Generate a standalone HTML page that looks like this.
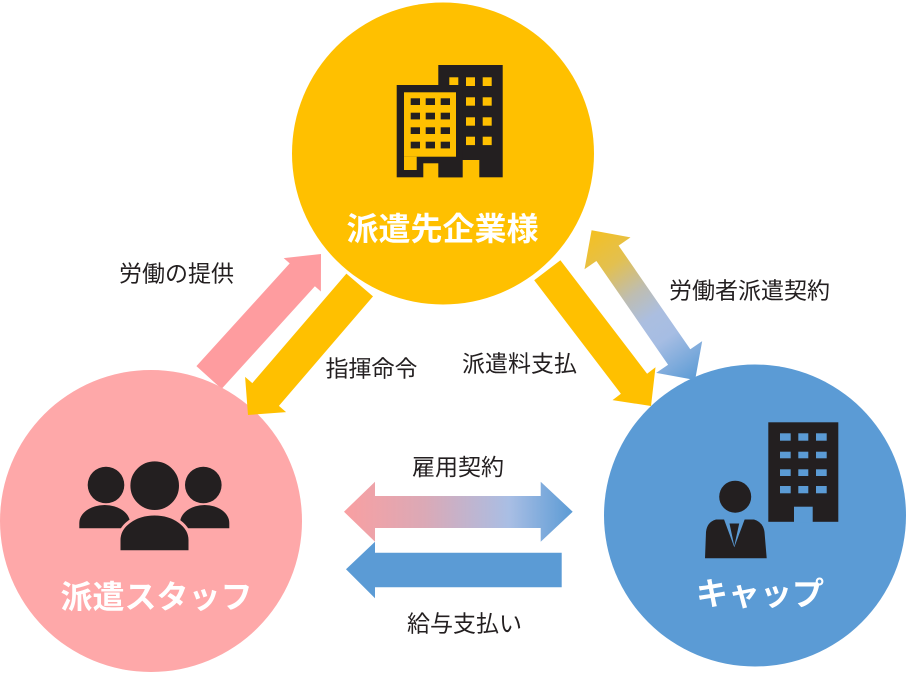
<!DOCTYPE html>
<html>
<head>
<meta charset="utf-8">
<style>
  html,body{margin:0;padding:0;background:#fff;}
  svg{display:block;}
  .lbl{font-family:"Liberation Sans","Noto Sans CJK JP",sans-serif;font-size:23px;fill:#231f20;}
  .big{font-family:"Liberation Sans","Noto Sans CJK JP",sans-serif;font-size:32px;fill:#fff;font-weight:700;}
</style>
</head>
<body>
<svg width="908" height="673" viewBox="0 0 908 673" xmlns="http://www.w3.org/2000/svg">
  <defs>
    <linearGradient id="gH" x1="344" y1="0" x2="573" y2="0" gradientUnits="userSpaceOnUse">
      <stop offset="0" stop-color="#f99fa1"/>
      <stop offset="0.35" stop-color="#dba9b6"/>
      <stop offset="0.72" stop-color="#a9bee4"/>
      <stop offset="1" stop-color="#5b9bd5"/>
    </linearGradient>
    <linearGradient id="gD" x1="591.6" y1="230.3" x2="695.1" y2="380" gradientUnits="userSpaceOnUse">
      <stop offset="0" stop-color="#f4c022"/>
      <stop offset="0.22" stop-color="#e3c04f"/>
      <stop offset="0.42" stop-color="#bebdb1"/>
      <stop offset="0.58" stop-color="#abbee0"/>
      <stop offset="0.72" stop-color="#a6bde3"/>
      <stop offset="1" stop-color="#5b9bd5"/>
    </linearGradient>
  </defs>

  <!-- pink arrow (behind circles) -->
  <polygon fill="#fe9c9f" points="196.4,366.1 289.7,263.4 283.7,258.1 321,254 320.9,291.5 314.9,286.2 221.6,388.9"/>

  <!-- circles -->
  <circle cx="443" cy="153.5" r="151" fill="#ffc000"/>
  <circle cx="151" cy="521" r="151" fill="#fea8a9"/>
  <circle cx="755" cy="515.5" r="151" fill="#5b9bd5"/>

  <!-- yellow arrows -->
  <polygon fill="#ffc000" points="346.4,273.6 252.3,383.1 245.1,376.9 248,415 286.1,412.1 278.9,405.9 373.0,296.4"/>
  <polygon fill="#ffc000" points="560.4,260.3 647.1,373.7 655.5,367.3 651,406 612.5,400.1 620.9,393.7 534.2,280.3"/>

  <!-- double diagonal arrow -->
  <polygon fill="url(#gD)" points="591.6,230.3 630.5,237.4 618.6,245.6 690.3,349.3 702.2,341.1 695.1,380 656.2,372.9 668.1,364.7 596.4,261.0 584.5,269.2"/>

  <!-- horizontal arrows -->
  <polygon fill="url(#gH)" points="344,511.7 375,481.7 375,496 540.7,496 540.7,481.7 572.7,511.7 540.7,541.7 540.7,528 375,528 375,541.7"/>
  <polygon fill="#5b9bd5" points="346,569.3 375,541.7 375,552.7 561.7,552.7 561.7,587.3 375,587.3 375,598.3"/>

  <!-- top building icon -->
  <g>
    <rect x="438.3" y="65" width="64.4" height="112.3" fill="#231f20"/>
    <g fill="#ffc000">
      <rect x="449.3" y="77.3" width="9" height="8"/>
      <rect x="466" y="77.3" width="9" height="8.7"/>
      <rect x="482.7" y="77.3" width="9" height="8.7"/>
      <rect x="466" y="97.3" width="9" height="8.4"/>
      <rect x="482.7" y="97.3" width="9" height="8.4"/>
      <rect x="466" y="117.3" width="9" height="8.4"/>
      <rect x="482.7" y="117.3" width="9" height="8.4"/>
      <rect x="466" y="136.7" width="9" height="8.4"/>
      <rect x="482.7" y="136.7" width="9" height="8.4"/>
    </g>
    <rect x="396.7" y="85" width="66" height="92.3" fill="#231f20"/>
    <g fill="#ffc000">
      <rect x="404" y="92.3" width="52" height="64.4"/>
      <rect x="404" y="156.7" width="12.7" height="13.3"/>
      <rect x="423.3" y="163.3" width="15" height="14.2"/>
      <rect x="462.7" y="160" width="16.6" height="17.5"/>
    </g>
    <g fill="#231f20">
      <rect x="410.7" y="98.3" width="9.3" height="6.7"/>
      <rect x="425.7" y="98.3" width="9.3" height="6.7"/>
      <rect x="440.7" y="98.3" width="9.3" height="6.7"/>
      <rect x="410.7" y="112.7" width="9.3" height="6.7"/>
      <rect x="425.7" y="112.7" width="9.3" height="6.7"/>
      <rect x="440.7" y="112.7" width="9.3" height="6.7"/>
      <rect x="410.7" y="127.3" width="9.3" height="6.7"/>
      <rect x="425.7" y="127.3" width="9.3" height="6.7"/>
      <rect x="440.7" y="127.3" width="9.3" height="6.7"/>
      <rect x="410.7" y="141.7" width="9.3" height="6.7"/>
      <rect x="425.7" y="141.7" width="9.3" height="6.7"/>
      <rect x="440.7" y="141.7" width="9.3" height="6.7"/>
    </g>
  </g>

  <!-- people icon -->
  <g fill="#231f20">
    <circle cx="106" cy="485" r="18.3"/>
    <circle cx="203.3" cy="485" r="18.3"/>
    <path d="M79.3,528.3 V523 A25.35,18 0 0 1 130,523 V528.3 Z"/>
    <path d="M180,528.3 V523 A24.65,18 0 0 1 229.3,523 V528.3 Z"/>
    <circle cx="154.7" cy="485.7" r="25.3" stroke="#fea8a9" stroke-width="2"/>
    <path d="M119,551.7 V540 A35.5,26 0 0 1 190,540 V551.7 Z" stroke="#fea8a9" stroke-width="3"/>
  </g>

  <!-- right icon: building + person -->
  <g>
    <rect x="768.3" y="422.3" width="70" height="99.5" fill="#231f20"/>
    <g fill="#5b9bd5">
      <rect x="780" y="433.3" width="10.7" height="7.4"/>
      <rect x="798.3" y="433.3" width="10" height="7.4"/>
      <rect x="816" y="433.3" width="10.7" height="7.4"/>
      <rect x="780" y="451.7" width="10.7" height="6.6"/>
      <rect x="798.3" y="451.7" width="10" height="6.6"/>
      <rect x="816" y="451.7" width="10.7" height="6.6"/>
      <rect x="780" y="469.3" width="10.7" height="6.7"/>
      <rect x="798.3" y="469.3" width="10" height="6.7"/>
      <rect x="816" y="469.3" width="10.7" height="6.7"/>
      <rect x="780" y="486" width="10.7" height="7.3"/>
      <rect x="798.3" y="486" width="10" height="7.3"/>
      <rect x="816" y="486" width="10.7" height="7.3"/>
      <rect x="794" y="506.7" width="18.7" height="16"/>
    </g>
    <circle cx="735.2" cy="496.7" r="16" fill="#231f20"/>
    <path fill="#231f20" d="M705,558.3 L706,532 Q707,522 716,519.5 L754,519.5 Q763,522 764.5,532 L766.7,558.3 Z"/>
    <polygon fill="#5b9bd5" points="723.7,518.5 745,518.5 734.3,547.3"/>
    <polygon fill="#231f20" points="729.5,523.5 739.2,523.5 734.3,546"/>
  </g>

  <!-- circle labels -->
  <text class="big" x="346.5" y="240">派遣先企業様</text>
  <text class="big" x="60.5" y="608">派遣スタッフ</text>
  <text class="big" x="696" y="605">キャップ</text>

  <!-- connector labels -->
  <text class="lbl" x="119" y="281.5">労働の提供</text>
  <text class="lbl" x="325.5" y="376.5">指揮命令</text>
  <text class="lbl" x="462" y="371.5">派遣料支払</text>
  <text class="lbl" x="669" y="298.5">労働者派遣契約</text>
  <text class="lbl" x="412" y="475">雇用契約</text>
  <text class="lbl" x="407" y="631.5">給与支払い</text>
</svg>
</body>
</html>
